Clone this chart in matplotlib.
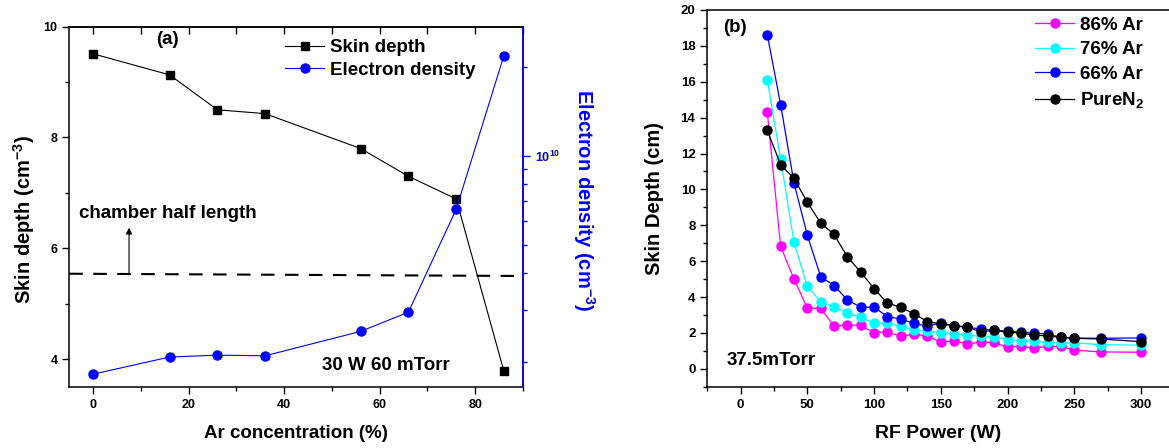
import matplotlib.pyplot as plt
from matplotlib.ticker import (MultipleLocator, FixedLocator, FixedFormatter,
                               LogLocator, NullFormatter)

plt.rcParams['font.family'] = ['Liberation Sans', 'DejaVu Sans']
plt.rcParams['font.weight'] = 'bold'
plt.rcParams['axes.labelweight'] = 'bold'
plt.rcParams['mathtext.fontset'] = 'custom'
plt.rcParams['mathtext.rm'] = 'Liberation Sans:bold'
plt.rcParams['mathtext.it'] = 'Liberation Sans:bold'
plt.rcParams['mathtext.bf'] = 'Liberation Sans:bold'
plt.rcParams['mathtext.sf'] = 'Liberation Sans:bold'

# (a) skin depth and electron density vs Ar fraction, 30 W / 60 mTorr
ar_conc = [0, 16, 26, 36, 56, 66, 76, 86]
skin_depth = [9.51, 9.13, 8.50, 8.43, 7.80, 7.30, 6.89, 3.78]
electron_density = [1.82e9, 2.08e9, 2.11e9, 2.10e9, 2.54e9, 2.95e9, 6.58e9, 2.18e10]
chamber_x = [-5, 88.3]
chamber_y = [5.54, 5.50]

# (b) skin depth vs RF power at 37.5 mTorr
power = [20, 30, 40, 50, 60, 70, 80, 90, 100, 110, 120, 130, 140, 150, 160,
         170, 180, 190, 200, 210, 220, 230, 240, 250, 270, 300]
ar86 = [14.30, 6.82, 5.00, 3.38, 3.36, 2.38, 2.44, 2.43, 2.01, 2.06, 1.80, 1.94, 1.82,
        1.47, 1.57, 1.38, 1.48, 1.47, 1.19, 1.26, 1.16, 1.25, 1.25, 1.04, 0.94, 0.92]
ar76 = [16.09, 11.67, 7.05, 4.59, 3.74, 3.43, 3.10, 2.87, 2.53, 2.53, 2.37, 2.17, 2.10,
        2.01, 1.95, 1.89, 1.80, 1.79, 1.61, 1.57, 1.53, 1.48, 1.45, 1.45, 1.34, 1.32]
ar66 = [18.62, 14.72, 10.36, 7.44, 5.14, 4.64, 3.84, 3.43, 3.43, 2.91, 2.77, 2.53, 2.37,
        2.55, 2.39, 2.31, 2.22, 2.16, 2.09, 2.05, 1.98, 1.94, 1.75, 1.71, 1.70, 1.72]
pure_n2 = [13.29, 11.37, 10.61, 9.28, 8.13, 7.49, 6.24, 5.39, 4.47, 3.66, 3.43, 3.06, 2.63,
           2.50, 2.40, 2.33, 2.05, 2.16, 2.03, 2.00, 1.87, 1.84, 1.75, 1.70, 1.66, 1.51]

FS = 13.5

fig = plt.figure(figsize=(11.69, 4.48), dpi=100)
ax1 = fig.add_axes([0.0593, 0.1368, 0.3881, 0.8036])
ax2 = fig.add_axes([0.605, 0.1368, 0.395, 0.8409])

# ---- panel (a) ----
l1, = ax1.plot(ar_conc, skin_depth, color='black', marker='s', ms=5.5, lw=0.8,
               label='Skin depth')
ax1.plot(chamber_x, chamber_y, color='black', lw=1.5, dashes=(6.5, 5))
ax1.annotate('', xy=(7.5, 6.37), xytext=(7.5, 5.54),
             arrowprops=dict(arrowstyle='-|>', color='black', lw=0.8,
                             mutation_scale=9, shrinkA=0, shrinkB=0))
ax1.text(-2.9, 6.62, 'chamber half length', fontsize=FS, va='center')
ax1.text(15.6, 9.76, '(a)', fontsize=FS, ha='center', va='center')
ax1.text(47.9, 3.89, '30 W 60 mTorr', fontsize=FS, va='center')

ax1.set_xlim(-5, 90)
ax1.set_ylim(3.5, 10)
ax1.xaxis.set_major_locator(MultipleLocator(20))
ax1.xaxis.set_minor_locator(MultipleLocator(10))
ax1.yaxis.set_major_locator(MultipleLocator(2))
ax1.yaxis.set_minor_locator(MultipleLocator(1))
ax1.tick_params(which='both', direction='out', width=1, labelsize=9, right=False)
ax1.tick_params(which='major', length=5)
ax1.tick_params(which='minor', length=3)
ax1.tick_params(axis='x', pad=4)
ax1.set_xlabel('Ar concentration (%)', fontsize=FS, labelpad=10)
ax1.set_ylabel('Skin depth (cm$^{-3}$)', fontsize=14.5)
ax1.yaxis.set_label_coords(-0.071, 0.463)
for s in ax1.spines.values():
    s.set_linewidth(1.1)

top = ax1.secondary_xaxis('top')
top.xaxis.set_major_locator(MultipleLocator(20))
top.xaxis.set_minor_locator(MultipleLocator(10))
top.xaxis.set_major_formatter(NullFormatter())
top.tick_params(which='both', direction='in', width=1, length=5)
top.tick_params(which='minor', length=5)
top.spines['top'].set_linewidth(1.1)

ax1r = ax1.twinx()
l2, = ax1r.plot(ar_conc, electron_density, color='blue', marker='o', ms=6.5, lw=0.8,
                label='Electron density')
ax1r.set_yscale('log')
ax1r.set_ylim(1.65e9, 2.733e10)
ax1r.yaxis.set_major_locator(FixedLocator([1e10]))
ax1r.yaxis.set_major_formatter(FixedFormatter(['$10^{10}$']))
ax1r.yaxis.set_minor_locator(LogLocator(base=10, subs=range(2, 10)))
ax1r.yaxis.set_minor_formatter(NullFormatter())
ax1r.tick_params(which='both', colors='blue', width=1, labelsize=9)
ax1r.tick_params(which='major', length=5)
ax1r.tick_params(which='minor', length=3)
for side in ('top', 'left', 'bottom'):
    ax1r.spines[side].set_visible(False)
ax1r.spines['right'].set_color('blue')
ax1r.spines['right'].set_linewidth(1.1)
ax1r.set_ylabel('Electron density (cm$^{-3}$)', fontsize=14.5, color='blue',
                rotation=270, va='bottom')
ax1r.yaxis.set_label_coords(1.106, 0.519)
ax1r.legend(handles=[l1, l2], loc='upper left', bbox_to_anchor=(0.4754, 0.966),
            frameon=False, fontsize=FS, handlelength=2.1, handletextpad=0.3,
            labelspacing=0.31, borderpad=0, borderaxespad=0, numpoints=1)

# ---- panel (b) ----
series = [(ar86, '#ff00ff', '86% Ar'), (ar76, '#00ffff', '76% Ar'),
          (ar66, '#0000ff', '66% Ar'), (pure_n2, 'black', 'PureN$_2$')]
for vals, col, lab in series:
    ax2.plot(power, vals, color=col, marker='o', ms=6.5, lw=0.9, label=lab)

ax2.text(-4, 19.0, '(b)', fontsize=FS, ha='center', va='center')
ax2.text(-10.7, 0.45, '37.5mTorr', fontsize=FS, va='center')

ax2.set_xlim(-25, 321)
ax2.set_ylim(-1, 20)
ax2.xaxis.set_major_locator(MultipleLocator(50))
ax2.xaxis.set_minor_locator(MultipleLocator(25))
ax2.yaxis.set_major_locator(MultipleLocator(2))
ax2.yaxis.set_minor_locator(MultipleLocator(1))
ax2.tick_params(which='both', direction='out', width=1, labelsize=9.5)
ax2.tick_params(which='major', length=5)
ax2.tick_params(which='minor', length=3)
ax2.tick_params(axis='x', pad=4)
ax2.spines['right'].set_visible(False)
for s in ax2.spines.values():
    s.set_linewidth(1.1)
ax2.set_xlabel('RF Power (W)', fontsize=14, labelpad=10)
ax2.set_ylabel('Skin Depth (cm)', fontsize=14.5, labelpad=12)
ax2.legend(loc='upper left', bbox_to_anchor=(0.71, 0.982), frameon=False,
           fontsize=FS, handlelength=2.1, handletextpad=0.3, labelspacing=0.39,
           borderpad=0, borderaxespad=0, numpoints=1)

fig.savefig('out.png', dpi=100)
